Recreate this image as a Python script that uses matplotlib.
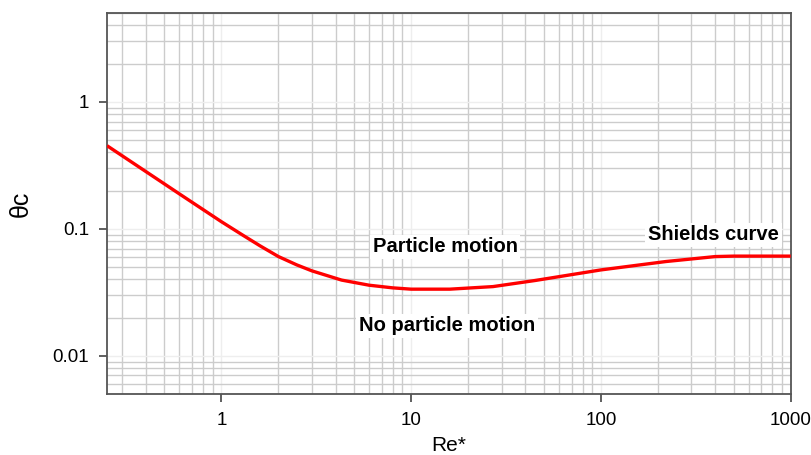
import numpy as np
import matplotlib.pyplot as plt
from matplotlib.ticker import FixedLocator, NullFormatter

plt.rcParams['font.family'] = ['Liberation Sans', 'DejaVu Sans']

# Shields curve
re_star = [0.25, 0.6, 1.0, 1.29, 1.6, 2.0, 2.5, 3.0, 4.3, 6.0, 8.0, 10, 16, 27, 45,
           100, 220, 400, 500, 1000]
theta_c = [0.452, 0.189, 0.114, 0.0897, 0.0735, 0.0605, 0.052, 0.0467, 0.0395, 0.036,
           0.0343, 0.0335, 0.0335, 0.0351, 0.0392, 0.0475, 0.0553, 0.0605, 0.061, 0.061]

x_major = [1, 10, 100, 1000]
y_major = [0.01, 0.1, 1]
y_labels = ['0.01', '0.1', '1']

fig = plt.figure(figsize=(8.11, 4.55), dpi=100)
ax = fig.add_axes([0.132, 0.134, 0.843, 0.837])

ax.set_xscale('log')
ax.set_yscale('log')
ax.set_xlim(0.25, 1000)
ax.set_ylim(0.005, 5)

minor_x = [m * 10.0 ** e for e in range(-1, 3) for m in range(2, 10)]
minor_y = [m * 10.0 ** e for e in range(-3, 1) for m in range(2, 10)]
ax.xaxis.set_major_locator(FixedLocator(x_major))
ax.yaxis.set_major_locator(FixedLocator(y_major))
ax.xaxis.set_minor_locator(FixedLocator(minor_x))
ax.yaxis.set_minor_locator(FixedLocator(minor_y))
ax.set_xticklabels([str(v) for v in x_major])
ax.set_yticklabels(y_labels)
ax.xaxis.set_minor_formatter(NullFormatter())
ax.yaxis.set_minor_formatter(NullFormatter())

ax.grid(True, which='minor', color='#cccccc', lw=1.0)
ax.grid(True, which='major', color='#eeeeee', lw=1.0)
ax.set_axisbelow(True)

ax.tick_params(which='minor', length=0)
ax.tick_params(which='major', direction='out', length=6, width=1.2, color='#444444',
               labelsize=13.5, labelcolor='black', pad=7)
for s in ax.spines.values():
    s.set_color('#555555')
    s.set_linewidth(1.3)

ax.plot(re_star, theta_c, color='red', lw=2.4, zorder=3, solid_capstyle='butt')

box = dict(facecolor='white', edgecolor='none', pad=2)
ax.text(15.1, 0.0722, 'Particle motion', ha='center', va='center', fontsize=14.5,
        fontweight='bold', bbox=box, zorder=4)
ax.text(15.5, 0.0172, 'No particle motion', ha='center', va='center', fontsize=14.5,
        fontweight='bold', bbox=box, zorder=4)
ax.text(393, 0.0897, 'Shields curve', ha='center', va='center', fontsize=14.5,
        fontweight='bold', bbox=box, zorder=4)

ax.set_xlabel('Re*', fontsize=15, labelpad=5)
ax.set_ylabel('θc', fontsize=18, labelpad=14)

fig.savefig('out.png', dpi=100)
